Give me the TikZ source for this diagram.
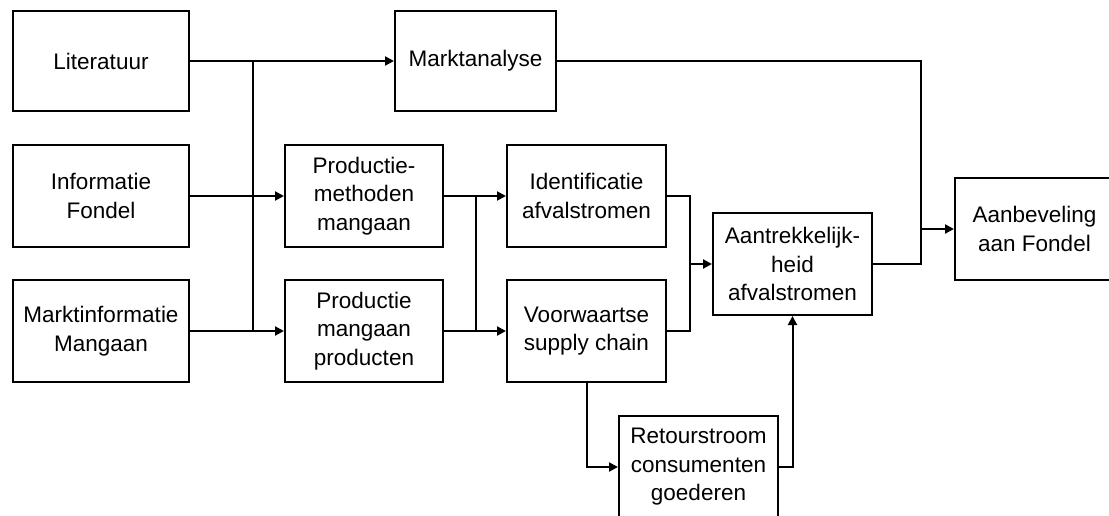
\documentclass[tikz,border=0pt]{standalone}
\usepackage{fontspec}
\newfontfamily\blokfont{Liberation Sans}
\usepackage{tikz}
\usetikzlibrary{arrows.meta,positioning,calc}

\tikzset{
  blok/.style={draw, line width=2pt, minimum width=159pt, minimum height=102pt,
    inner sep=0pt, align=center, font=\blokfont\fontsize{22.5}{28.5}\selectfont},
  pijl/.style={-{Triangle[length=9pt,width=9pt]}},
}

\begin{document}
\begin{tikzpicture}[x=1pt, y=-1pt, line width=2pt]
  % Page frame (right and bottom boxes run off the edge)
  \clip (0,0) rectangle (1109,515);

  % Left column: sources
  \node[blok, minimum width=176pt, minimum height=100pt] (lit) at (101,61) {Literatuur};
  \node[blok, minimum width=176pt] (info) at (101,196) {Informatie\\Fondel};
  \node[blok, minimum width=176pt] (markt) at (101,331) {Marktinformatie\\Mangaan};

  % Market analysis
  \node[blok, minimum width=161pt, minimum height=100pt] (analyse) at (475.5,61) {Marktanalyse};

  % Production boxes
  \node[blok, minimum width=158pt] (methoden) at (364,196) {Productie-\\methoden\\mangaan};
  \node[blok, minimum width=158pt] (producten) at (364,331) {Productie\\mangaan\\producten};

  % Waste streams
  \node[blok] (ident) at (586.5,196) {Identificatie\\afvalstromen};
  \node[blok] (voor) at (586.5,331) {Voorwaartse\\supply chain};
  \node[blok] (retour) at (698.5,467) {Retourstroom\\consumenten\\goederen};
  \node[blok] (aantrek) at (792.5,264) {Aantrekkelijk-\\heid\\afvalstromen};

  % Result
  \node[blok] (aanbev) at (1034.5,229) {Aanbeveling\\aan Fondel};

  % Bus points
  \coordinate (busA) at (253,61);
  \coordinate (busB) at (476,196);
  \coordinate (busC) at (690,264);
  \coordinate (join) at (921,229);

  % First bus
  \draw[pijl] (lit.east) -- (analyse.west);
  \draw[pijl] (info.east) -- (methoden.west);
  \draw[pijl] (markt.east) -- (producten.west);
  \draw (busA) -- (busA |- producten.west);

  % Second bus
  \draw[pijl] (methoden.east) -- (ident.west);
  \draw[pijl] (producten.east) -- (voor.west);
  \draw (busB) -- (busB |- producten.east);

  % Into attractiveness
  \draw (ident.east) -| (busC |- voor.east) -- (voor.east);
  \draw[pijl] (busC) -- (aantrek.west);
  \draw[pijl] (voor.south) |- (retour.west);
  \draw[pijl] (retour.east) -| (aantrek.south);

  % To recommendation
  \draw (analyse.east) -| (join);
  \draw (aantrek.east) -| (join);
  \draw[pijl] (join) -- (aanbev.west);
\end{tikzpicture}
\end{document}
